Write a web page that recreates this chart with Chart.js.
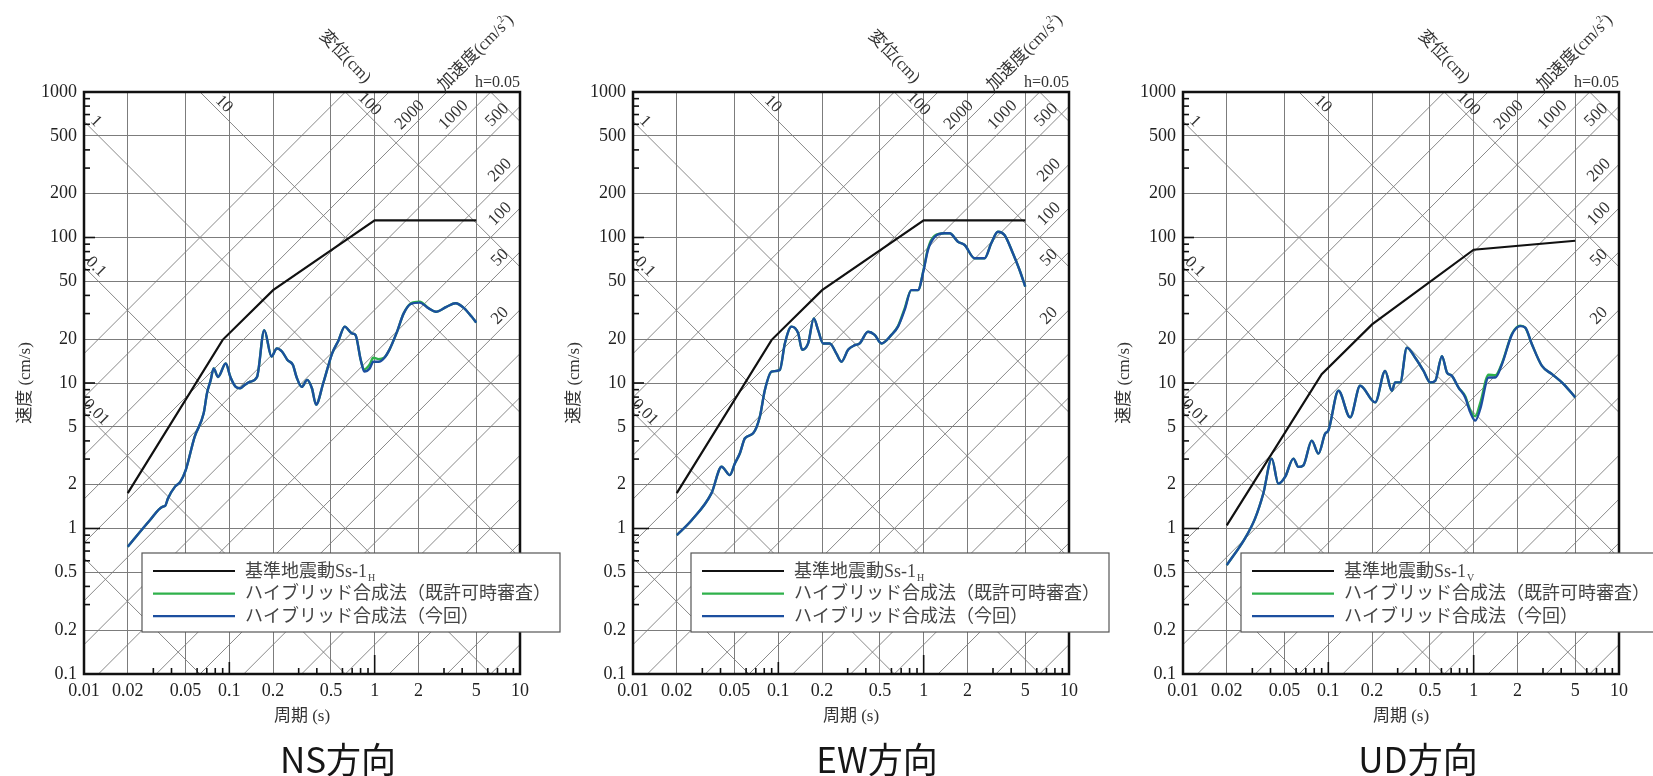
<!DOCTYPE html>
<html>
<head>
<meta charset="utf-8">
<script src="https://cdn.jsdelivr.net/npm/chart.js@4.4.1/dist/chart.umd.min.js"></script>
<style>
  html, body { margin: 0; padding: 0; background: #fff; }
  #wrap { position: relative; width: 1653px; height: 776px; overflow: hidden; background: #fff; }
  #wrap canvas { position: absolute; left: 0; top: 0; }
  .caption {
    position: absolute; top: 740px; width: 240px; margin-left: -120px;
    text-align: center; font: 35px "Noto Sans CJK JP", sans-serif; line-height: 35px; color: #161616;
  }
</style>
</head>
<body>
<div id="wrap">
  <canvas id="chart-ns" width="1653" height="776"></canvas>
  <canvas id="chart-ew" width="1653" height="776"></canvas>
  <canvas id="chart-ud" width="1653" height="776"></canvas>
  <div class="caption" style="left:338px">NS方向</div>
  <div class="caption" style="left:877px">EW方向</div>
  <div class="caption" style="left:1418px">UD方向</div>
</div>
<script>
// axis ticks and tripartite grid values
const periodTicks = [0.01, 0.02, 0.05, 0.1, 0.2, 0.5, 1, 2, 5, 10];
const velocityTicks = [0.1, 0.2, 0.5, 1, 2, 5, 10, 20, 50, 100, 200, 500, 1000];
const dispLines = [0.001, 0.01, 0.1, 1, 10, 100, 1000];
const dispLabels = [0.01, 0.1, 1, 10, 100];
const accLines = [0.1, 0.2, 0.5, 1, 2, 5, 10, 20, 50, 100, 200, 500, 1000, 2000, 5000, 10000];
const accLabels = [20, 50, 100, 200, 500, 1000, 2000];
const seriesNames = ['基準地震動Ss-1', 'ハイブリッド合成法（既許可時審査）', 'ハイブリッド合成法（今回）'];

// design spectra
const hSsT = [0.02, 0.09, 0.2, 1, 5];
const hSsV = [1.75, 19.8, 43.5, 131, 131];
const vSsT = [0.02, 0.09, 0.2, 1, 5];
const vSsV = [1.05, 11.5, 25.3, 82.4, 95];

// NS
const nsT = [0.02, 0.0284, 0.0346, 0.0362, 0.0378, 0.0423, 0.0461, 0.0501, 0.0577, 0.0666, 0.0702, 0.0745, 0.078, 0.0835,
  0.0945, 0.1017, 0.1107, 0.1185, 0.1275, 0.1388, 0.155, 0.174, 0.195, 0.212, 0.231, 0.251, 0.274, 0.29, 0.3155,
  0.343, 0.37, 0.395, 0.443, 0.51, 0.565, 0.622, 0.697, 0.738, 0.802, 0.849, 0.924, 0.978, 1.065, 1.16, 1.262,
  1.413, 1.584, 1.772, 2.04, 2.355, 2.634, 3.12, 3.6, 4.14, 4.64, 5.0];
const nsNewV = [0.75, 1.14, 1.41, 1.43, 1.61, 1.94, 2.1, 2.52, 4.27, 6.19, 8.5, 10.5, 12.6, 11.0,
  13.6, 11.0, 9.4, 9.2, 9.7, 10.2, 11.0, 23.1, 15.2, 17.3, 16.4, 14.4, 13.3, 11.0, 9.4,
  10.5, 9.2, 7.1, 10.0, 16.0, 19.7, 24.4, 21.9, 21.4, 14.4, 12.0, 12.6, 14.0, 14.0, 14.8, 16.9,
  22.0, 30.1, 34.9, 35.7, 32.6, 30.9, 33.4, 35.3, 32.6, 28.6, 26.0];
const nsOldV = [0.75, 1.14, 1.41, 1.43, 1.61, 1.94, 2.1, 2.52, 4.27, 6.19, 8.5, 10.5, 12.6, 11.0,
  13.6, 11.0, 9.4, 9.2, 9.7, 10.2, 11.0, 23.1, 15.2, 17.3, 16.4, 14.4, 13.3, 11.0, 9.4,
  10.5, 9.2, 7.1, 10.0, 16.0, 19.7, 24.4, 21.9, 21.4, 14.4, 12.4, 13.4, 14.9, 14.6, 14.9, 16.9,
  22.0, 30.1, 35.2, 36.2, 32.6, 30.9, 33.4, 35.3, 32.6, 28.6, 26.0];

// EW
const ewT = [0.02, 0.0253, 0.0347, 0.0407, 0.0464, 0.0502, 0.0544, 0.0589, 0.0671, 0.0746, 0.0808, 0.0898, 0.1024,
  0.1109, 0.1232, 0.1368, 0.1458, 0.1603, 0.1754, 0.1878, 0.2032, 0.226, 0.251, 0.2718, 0.302, 0.3357, 0.363,
  0.414, 0.46, 0.512, 0.6, 0.666, 0.74, 0.822, 0.914, 1.0, 1.07, 1.19, 1.393, 1.509, 1.72, 1.914, 2.241, 2.624,
  2.917, 3.24, 3.6, 4.11, 4.57, 5.0];
const ewNewV = [0.9, 1.14, 1.75, 2.66, 2.33, 2.8, 3.29, 4.17, 4.51, 5.86, 8.95, 11.96, 12.3,
  18.7, 24.4, 22.0, 16.9, 18.7, 27.8, 23.1, 18.7, 18.7, 15.9, 14.0, 16.9, 18.2, 18.7,
  22.5, 21.4, 18.7, 21.4, 24.4, 31.8, 43.5, 43.5, 59.8, 82, 101, 107, 107, 93.6, 88.8, 72, 72,
  91.2, 109.6, 104, 77.9, 59.8, 46];
const ewOldV = [0.9, 1.14, 1.75, 2.66, 2.33, 2.8, 3.29, 4.17, 4.51, 5.86, 8.95, 11.96, 12.3,
  18.7, 24.4, 22.0, 16.9, 18.7, 27.8, 23.1, 18.7, 18.7, 15.9, 14.0, 16.9, 18.2, 18.7,
  22.5, 21.4, 18.7, 21.4, 24.6, 32.6, 43.5, 43.5, 60.5, 84, 103, 107, 107, 93.6, 88.8, 72, 72,
  91.2, 109.6, 104, 77.9, 59.8, 46];

// UD
const udT = [0.02, 0.0267, 0.0313, 0.0357, 0.0408, 0.0453, 0.0504, 0.0575, 0.0622, 0.0674, 0.0769, 0.0855, 0.095,
  0.1, 0.1174, 0.1413, 0.1656, 0.21, 0.246, 0.2735, 0.2884, 0.3123, 0.347, 0.396, 0.452, 0.502, 0.544, 0.605,
  0.655, 0.708, 0.787, 0.875, 0.948, 1.026, 1.11, 1.267, 1.41, 1.567, 1.836, 2.094, 2.266, 2.52, 2.95, 3.46,
  4.16, 5.0];
const udNewV = [0.56, 0.855, 1.17, 1.74, 3.02, 2.03, 2.26, 3.02, 2.65, 2.72, 4.02, 3.27, 4.48,
  4.71, 8.84, 5.8, 9.57, 7.36, 12.1, 8.84, 10.1, 10.1, 17.5, 14.9, 12.1, 10.1, 10.35, 15.3,
  11.8, 11.2, 9.3, 7.96, 6.28, 5.51, 6.63, 10.9, 10.9, 13.5, 21.6, 24.6, 24.0, 18.4, 13.1, 11.5,
  9.83, 7.96];
const udOldV = [0.56, 0.855, 1.17, 1.74, 3.02, 2.03, 2.26, 3.02, 2.65, 2.72, 4.02, 3.27, 4.48,
  4.71, 8.84, 5.8, 9.57, 7.36, 12.1, 8.84, 10.1, 10.1, 17.5, 14.9, 12.1, 10.1, 10.35, 15.3,
  11.8, 11.2, 9.3, 8.1, 6.5, 5.9, 7.3, 11.4, 11.3, 13.7, 21.8, 24.8, 24.0, 18.4, 13.1, 11.5,
  9.83, 7.96];

const TWO_PI = 2 * Math.PI;
const GRID = '#7c7c7c';
const SERIF = '"Liberation Serif", "Noto Sans CJK JP", serif';
const minorSteps = [3, 4, 6, 7, 8, 9];

Chart.defaults.font.family = SERIF;
Chart.defaults.color = '#222';

const pointsOf = (periods, values) => periods.map((t, i) => ({ x: t, y: values[i] }));

const drawRotated = (ctx, text, cx, cy, angle) => {
  ctx.save();
  ctx.translate(cx, cy);
  ctx.rotate(angle);
  ctx.fillText(text, 0, 0);
  ctx.restore();
};

// diagonal grid, frame, inner ticks, labels and the boxed legend
const tripartite = {
  id: 'tripartite',
  beforeDatasetsDraw(chart) {
    const { ctx, chartArea: a, scales: { x, y } } = chart;
    ctx.save();
    ctx.beginPath();
    ctx.rect(a.left, a.top, a.right - a.left, a.bottom - a.top);
    ctx.clip();
    ctx.strokeStyle = GRID;
    ctx.lineWidth = 0.9;
    const t0 = x.min, t1 = x.max;
    dispLines.forEach(d => {
      ctx.beginPath();
      ctx.moveTo(x.getPixelForValue(t0), y.getPixelForValue(TWO_PI * d / t0));
      ctx.lineTo(x.getPixelForValue(t1), y.getPixelForValue(TWO_PI * d / t1));
      ctx.stroke();
    });
    accLines.forEach(acc => {
      ctx.beginPath();
      ctx.moveTo(x.getPixelForValue(t0), y.getPixelForValue(acc * t0 / TWO_PI));
      ctx.lineTo(x.getPixelForValue(t1), y.getPixelForValue(acc * t1 / TWO_PI));
      ctx.stroke();
    });
    ctx.restore();
  },
  afterDatasetsDraw(chart) {
    const { ctx, chartArea: a, scales: { x, y } } = chart;
    ctx.save();

    // frame
    ctx.strokeStyle = '#111';
    ctx.lineWidth = 2.5;
    ctx.strokeRect(a.left, a.top, a.right - a.left, a.bottom - a.top);

    // ticks pointing into the plot
    ctx.lineWidth = 1.6;
    const tickUp = (v, len) => {
      const px = x.getPixelForValue(v);
      ctx.beginPath(); ctx.moveTo(px, a.bottom); ctx.lineTo(px, a.bottom - len); ctx.stroke();
    };
    const tickRight = (v, len) => {
      const py = y.getPixelForValue(v);
      ctx.beginPath(); ctx.moveTo(a.left, py); ctx.lineTo(a.left + len, py); ctx.stroke();
    };
    [0.01, 0.1, 1].forEach(dec => minorSteps.forEach(m => tickUp(m * dec, 6)));
    tickUp(0.1, 12);
    tickUp(1, 19);
    [0.1, 1, 10, 100].forEach(dec => minorSteps.forEach(m => tickRight(m * dec, 6)));
    tickRight(1, 16);
    tickRight(10, 11);
    tickRight(100, 11);

    // labels on diagonal lines
    const angle = Math.atan2(
      y.getPixelForValue(TWO_PI / 10) - y.getPixelForValue(TWO_PI / 0.01),
      x.getPixelForValue(10) - x.getPixelForValue(0.01));
    ctx.fillStyle = '#333';
    ctx.font = '17px ' + SERIF;
    ctx.textAlign = 'center';
    ctx.textBaseline = 'middle';
    dispLabels.forEach(d => {
      let py = a.top + 18;
      let px = x.getPixelForValue(TWO_PI * d / y.getValueForPixel(py));
      if (px < a.left + 6) {
        px = a.left + 6;
        py = y.getPixelForValue(TWO_PI * d / x.getValueForPixel(px));
      }
      drawRotated(ctx, String(d), px + 6, py - 6, angle);
    });
    accLabels.forEach(acc => {
      let py = a.top + 30;
      let px = x.getPixelForValue(TWO_PI * y.getValueForPixel(py) / acc);
      if (px > a.right - 13) {
        px = a.right - 13;
        py = y.getPixelForValue(acc * x.getValueForPixel(px) / TWO_PI);
      }
      drawRotated(ctx, String(acc), px - 7, py - 7, -angle);
    });

    // diagonal axis names and damping
    ctx.font = '17px ' + SERIF;
    drawRotated(ctx, '変位(cm)', a.right - 175, a.top - 35, 0.8);
    ctx.save();
    ctx.translate(a.right - 44, a.top - 39);
    ctx.rotate(-0.79);
    const accMain = '加速度(cm/s';
    const wMain = ctx.measureText(accMain).width;
    ctx.font = '10px ' + SERIF;
    const wSup = ctx.measureText('2').width;
    ctx.font = '17px ' + SERIF;
    const wEnd = ctx.measureText(')').width;
    const sx = -(wMain + wSup + wEnd) / 2;
    ctx.textAlign = 'left';
    ctx.fillText(accMain, sx, 0);
    ctx.font = '10px ' + SERIF;
    ctx.fillText('2', sx + wMain, -6);
    ctx.font = '17px ' + SERIF;
    ctx.fillText(')', sx + wMain + wSup, 0);
    ctx.restore();
    ctx.font = '16px ' + SERIF;
    ctx.textAlign = 'right';
    ctx.textBaseline = 'alphabetic';
    ctx.fillText('h=0.05', a.right, a.top - 5);

    // legend box
    const bx = a.left + 58, by = a.top + 461, bw = 418, bh = 79;
    ctx.fillStyle = '#fff';
    ctx.fillRect(bx, by, bw, bh);
    ctx.strokeStyle = '#555';
    ctx.lineWidth = 1.2;
    ctx.strokeRect(bx, by, bw, bh);
    chart.data.datasets.forEach((ds, i) => {
      const ry = by + 18 + i * 22.6;
      ctx.strokeStyle = ds.borderColor;
      ctx.lineWidth = 2.2;
      ctx.beginPath(); ctx.moveTo(bx + 11, ry); ctx.lineTo(bx + 93, ry); ctx.stroke();
      ctx.fillStyle = '#444';
      ctx.font = '18px ' + SERIF;
      ctx.textAlign = 'left';
      ctx.textBaseline = 'middle';
      ctx.fillText(ds.label, bx + 103, ry + 1);
      if (ds.subscript) {
        const w = ctx.measureText(ds.label).width;
        ctx.font = '10px ' + SERIF;
        ctx.fillText(ds.subscript, bx + 104 + w, ry + 7);
      }
    });
    ctx.restore();
  }
};

const makeChart = (id, left, right, ssT, ssV, periods, oldV, newV, sub) => {
  new Chart(document.getElementById(id).getContext('2d'), {
    type: 'line',
    data: {
      datasets: [
        { label: seriesNames[0], subscript: sub, data: pointsOf(ssT, ssV), borderColor: '#111', borderWidth: 2.2, tension: 0, order: 0 },
        { label: seriesNames[1], data: pointsOf(periods, oldV), borderColor: '#2fb14b', borderWidth: 2.4, cubicInterpolationMode: 'monotone', order: 2 },
        { label: seriesNames[2], data: pointsOf(periods, newV), borderColor: '#1c4f9f', borderWidth: 2.4, cubicInterpolationMode: 'monotone', order: 1 }
      ]
    },
    options: {
      responsive: false,
      animation: false,
      layout: { padding: { left: left - 74, right: 1653 - right, top: 92, bottom: 42 } },
      elements: { point: { radius: 0 } },
      plugins: { legend: { display: false }, tooltip: { enabled: false } },
      scales: {
        x: {
          type: 'logarithmic', min: 0.01, max: 10,
          afterBuildTicks: s => { s.ticks = periodTicks.map(v => ({ value: v })); },
          afterFit: s => { s.height = 60; },
          grid: { color: GRID, lineWidth: 1, drawTicks: false },
          border: { display: false },
          ticks: { autoSkip: false, maxRotation: 0, padding: 6, font: { size: 18 }, callback: v => String(v) },
          title: { display: true, text: '周期 (s)', color: '#333', font: { size: 17 }, padding: { top: 0, bottom: 7 } }
        },
        y: {
          type: 'logarithmic', min: 0.1, max: 1000,
          afterBuildTicks: s => { s.ticks = velocityTicks.map(v => ({ value: v })); },
          afterFit: s => { s.width = 74; },
          grid: { color: GRID, lineWidth: 1, drawTicks: false },
          border: { display: false },
          ticks: { autoSkip: false, padding: 7, font: { size: 18 }, callback: v => String(v) },
          title: { display: true, text: '速度 (cm/s)', color: '#333', font: { size: 17 }, padding: { top: 5, bottom: 0 } }
        }
      }
    },
    plugins: [tripartite]
  });
};

makeChart('chart-ns', 84, 520, hSsT, hSsV, nsT, nsOldV, nsNewV, 'H');
makeChart('chart-ew', 633, 1069, hSsT, hSsV, ewT, ewOldV, ewNewV, 'H');
makeChart('chart-ud', 1183, 1619, vSsT, vSsV, udT, udOldV, udNewV, 'V');
</script>
</body>
</html>
